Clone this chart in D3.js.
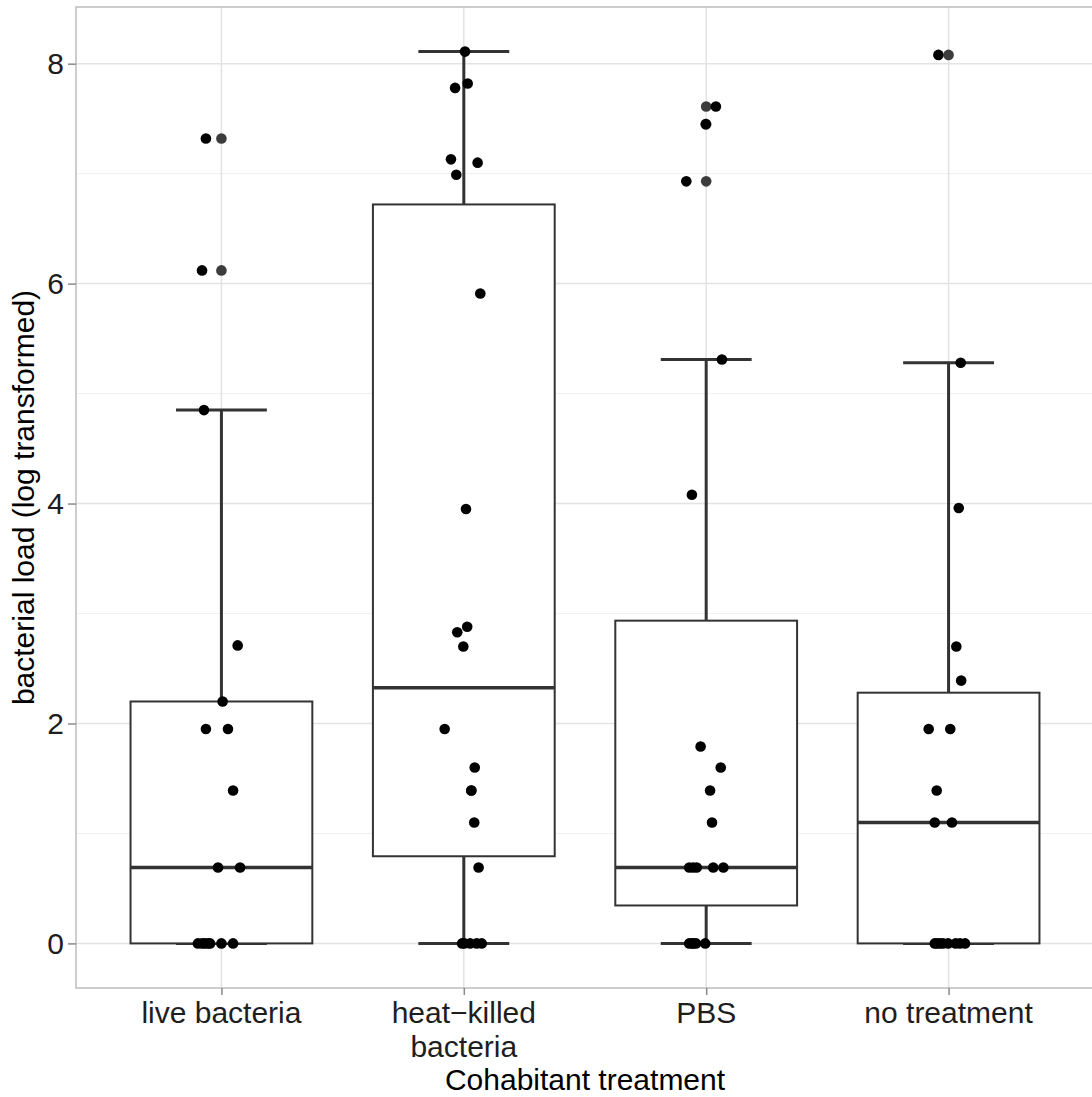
<!DOCTYPE html>
<html>
<head>
<meta charset="utf-8">
<script src="https://cdn.jsdelivr.net/npm/d3@7"></script>
<style>
  html, body { margin: 0; padding: 0; background: #ffffff; overflow: hidden; }
  svg text { font-family: "Liberation Sans", Arial, Helvetica, sans-serif; }
</style>
</head>
<body>
<svg id="chart" width="1092" height="1097"></svg>
<script>
// ---- data -------------------------------------------------------------
const categories = ["live bacteria", "heat-killed bacteria", "PBS", "no treatment"];
const categoryLabels = [["live bacteria"], ["heat\u2212killed", "bacteria"], ["PBS"], ["no treatment"]];

// bacterial load (log transformed), one value per animal
const liveBacteria = [0, 0, 0, 0, 0, 0, 0, 0.69, 0.69, 1.39, 1.95, 1.95, 2.20, 2.71, 4.85, 6.12, 7.32];
const heatKilled   = [0, 0, 0, 0, 0, 0.69, 1.10, 1.39, 1.39, 1.60, 1.95, 2.70, 2.83, 2.88, 3.95, 5.91, 6.99, 7.10, 7.13, 7.78, 7.82, 8.11];
const pbs          = [0, 0, 0, 0, 0, 0.69, 0.69, 0.69, 0.69, 0.69, 1.10, 1.39, 1.60, 1.79, 4.08, 5.31, 6.93, 7.45, 7.61];
const noTreatment  = [0, 0, 0, 0, 0, 0, 0, 0, 1.10, 1.10, 1.39, 1.95, 1.95, 2.39, 2.70, 3.96, 5.28, 8.08];

// horizontal jitter of each point, in category-step units
const liveJitter   = [-0.097, -0.080, -0.068, -0.055, -0.047, 0.000, 0.048, -0.014, 0.077, 0.048, -0.064, 0.027, 0.005, 0.067, -0.072, -0.080, -0.064];
const heatJitter   = [0.002, 0.026, 0.053, 0.074, -0.007, 0.061, 0.043, 0.031, 0.031, 0.045, -0.079, -0.002, -0.027, 0.014, 0.009, 0.068, -0.031, 0.057, -0.053, -0.036, 0.016, 0.005];
const pbsJitter    = [-0.070, -0.058, -0.053, -0.042, -0.004, -0.070, -0.054, -0.039, 0.029, 0.071, 0.024, 0.016, 0.060, -0.023, -0.059, 0.065, -0.082, -0.002, 0.040];
const noneJitter   = [-0.057, -0.048, -0.036, -0.023, -0.002, 0.029, 0.047, 0.068, -0.057, 0.014, -0.049, -0.082, 0.007, 0.052, 0.032, 0.042, 0.050, -0.042];

const groupValues = [liveBacteria, heatKilled, pbs, noTreatment];
const groupJitter = [liveJitter, heatJitter, pbsJitter, noneJitter];

const yTicks = [0, 2, 4, 6, 8];
const yMinorTicks = [1, 3, 5, 7];
const xTitle = "Cohabitant treatment";
const yTitle = "bacterial load (log transformed)";

// ---- layout -----------------------------------------------------------
const panel = { left: 76, right: 1094, top: 7, bottom: 988 };
const svg = d3.select("#chart");

const allValues = groupValues.flat();
const [vMin, vMax] = d3.extent(allValues);
const pad = (vMax - vMin) * 0.05;

const x = d3.scalePoint().domain(categories).range([panel.left, panel.right]).padding(0.6);
const y = d3.scaleLinear().domain([vMin - pad, vMax + pad]).range([panel.bottom, panel.top]);
const step = x.step();

// ---- box statistics (Tukey, type-7 quantiles) -------------------------
const stats = groupValues.map((vals, i) => {
  const s = vals.slice().sort(d3.ascending);
  const q1 = d3.quantile(s, 0.25), med = d3.quantile(s, 0.5), q3 = d3.quantile(s, 0.75);
  const iqr = q3 - q1;
  const lo = d3.min(s.filter(v => v >= q1 - 1.5 * iqr));
  const hi = d3.max(s.filter(v => v <= q3 + 1.5 * iqr));
  const outliers = s.filter(v => v < lo || v > hi);
  return { cat: categories[i], q1, med, q3, lo, hi, outliers };
});

// ---- panel background & grid -----------------------------------------
const grid = svg.append("g");
grid.selectAll("line.minor").data(yMinorTicks).join("line")
  .attr("x1", panel.left).attr("x2", panel.right)
  .attr("y1", d => y(d)).attr("y2", d => y(d))
  .attr("stroke", "#f0f0f0").attr("stroke-width", 1);
grid.selectAll("line.major").data(yTicks).join("line")
  .attr("x1", panel.left).attr("x2", panel.right)
  .attr("y1", d => y(d)).attr("y2", d => y(d))
  .attr("stroke", "#e3e3e3").attr("stroke-width", 1.5);
grid.selectAll("line.xgrid").data(categories).join("line")
  .attr("x1", d => x(d)).attr("x2", d => x(d))
  .attr("y1", panel.top).attr("y2", panel.bottom)
  .attr("stroke", "#e3e3e3").attr("stroke-width", 1.5);

// ---- error bars (whiskers with caps) ---------------------------------
const capHalf = step * 0.1875;
const eb = svg.append("g").attr("stroke", "#333333").attr("stroke-width", 3);
stats.forEach(d => {
  eb.append("line").attr("x1", x(d.cat)).attr("x2", x(d.cat))
    .attr("y1", y(d.lo)).attr("y2", y(d.hi));
  [d.lo, d.hi].forEach(v => {
    eb.append("line").attr("x1", x(d.cat) - capHalf).attr("x2", x(d.cat) + capHalf)
      .attr("y1", y(v)).attr("y2", y(v));
  });
});

// ---- boxes ------------------------------------------------------------
const boxHalf = step * 0.375;
const boxes = svg.append("g");
boxes.selectAll("rect").data(stats).join("rect")
  .attr("x", d => x(d.cat) - boxHalf).attr("width", boxHalf * 2)
  .attr("y", d => y(d.q3)).attr("height", d => y(d.q1) - y(d.q3))
  .attr("fill", "#ffffff").attr("stroke", "#333333").attr("stroke-width", 2);
boxes.selectAll("line.median").data(stats).join("line")
  .attr("x1", d => x(d.cat) - boxHalf).attr("x2", d => x(d.cat) + boxHalf)
  .attr("y1", d => y(d.med)).attr("y2", d => y(d.med))
  .attr("stroke", "#333333").attr("stroke-width", 3.5);

// outliers at the box centre
const outlierData = stats.flatMap(d => d.outliers.map(v => ({ cat: d.cat, v })));
svg.append("g").selectAll("circle").data(outlierData).join("circle")
  .attr("cx", d => x(d.cat)).attr("cy", d => y(d.v)).attr("r", 5.3)
  .attr("fill", "#3c3c3c");

// ---- jittered points --------------------------------------------------
const pts = groupValues.flatMap((vals, i) =>
  vals.map((v, j) => ({ cat: categories[i], v, dx: groupJitter[i][j] })));
svg.append("g").selectAll("circle").data(pts).join("circle")
  .attr("cx", d => x(d.cat) + d.dx * step).attr("cy", d => y(d.v)).attr("r", 5.3)
  .attr("fill", "#000000");

// ---- panel border -----------------------------------------------------
svg.append("rect")
  .attr("x", panel.left).attr("y", panel.top)
  .attr("width", panel.right - panel.left).attr("height", panel.bottom - panel.top)
  .attr("fill", "none").attr("stroke", "#bdbdbd").attr("stroke-width", 1.5);

// ---- axes -------------------------------------------------------------
const yAxis = svg.append("g").attr("transform", `translate(${panel.left},0)`)
  .call(d3.axisLeft(y).tickValues(yTicks).tickSize(8).tickPadding(4).tickFormat(d3.format("d")));
yAxis.select(".domain").remove();
yAxis.selectAll(".tick line").attr("stroke", "#8a8a8a").attr("stroke-width", 1.5);
yAxis.selectAll(".tick text").attr("fill", "#1e1e1e").attr("font-size", 30)
  .attr("font-family", "'Liberation Sans', Arial, sans-serif");

const xAxis = svg.append("g").attr("transform", `translate(0,${panel.bottom})`)
  .call(d3.axisBottom(x).tickSize(7).tickFormat(() => ""));
xAxis.select(".domain").remove();
xAxis.selectAll(".tick line").attr("stroke", "#8a8a8a").attr("stroke-width", 1.5);

const xLab = svg.append("g");
categories.forEach((c, i) => {
  const t = xLab.append("text")
    .attr("x", x(c)).attr("y", 1023)
    .attr("text-anchor", "middle").attr("font-size", 30).attr("fill", "#1e1e1e");
  categoryLabels[i].forEach((line, k) => {
    t.append("tspan").attr("x", x(c)).attr("dy", k === 0 ? 0 : 33.5).text(line);
  });
});

svg.append("text")
  .attr("x", (panel.left + panel.right) / 2).attr("y", 1090)
  .attr("text-anchor", "middle").attr("font-size", 30).attr("fill", "#000000")
  .text(xTitle);

svg.append("text")
  .attr("transform", `translate(34,${(panel.top + panel.bottom) / 2}) rotate(-90)`)
  .attr("text-anchor", "middle").attr("font-size", 30).attr("fill", "#000000")
  .text(yTitle);
</script>
</body>
</html>
